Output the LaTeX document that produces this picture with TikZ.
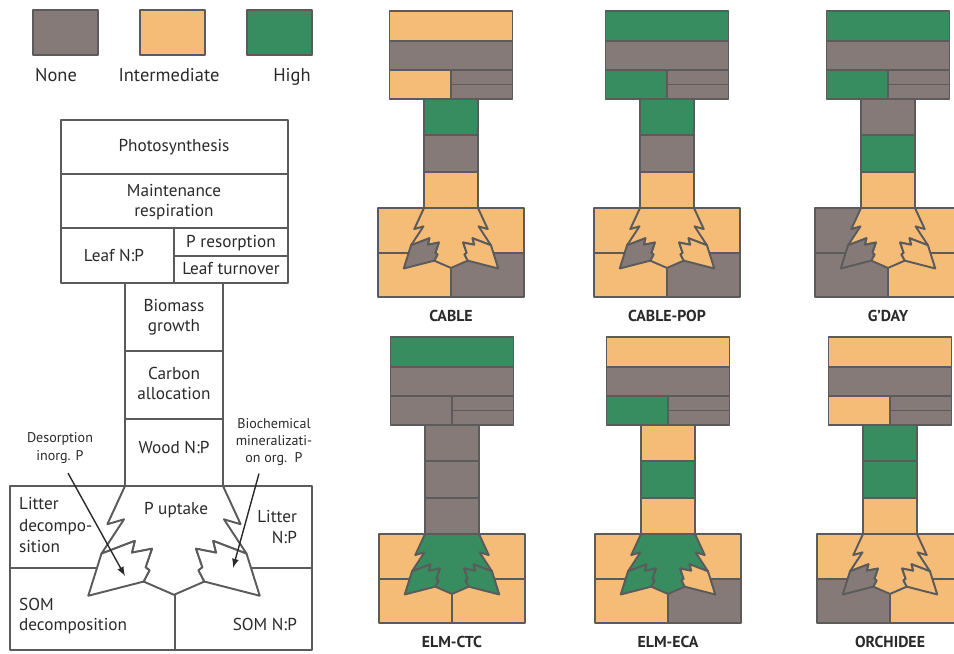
\documentclass[tikz,border=0pt]{standalone}
\usepackage{fontspec}
\setmainfont{PT Sans}
\usepackage{tikz}

\definecolor{lvlN}{HTML}{857A78}
\definecolor{lvlI}{HTML}{F5BC77}
\definecolor{lvlH}{HTML}{378D5F}
\definecolor{edge}{HTML}{5B5B5B}
\definecolor{ink}{HTML}{2A2A2A}

% root: body, left lobe, right lobe (unit = half trunk width)
\newcommand\rootparts[3]{%
  \draw[#1] (-1,0) -- (-1.36,0.78) -- (-1.02,0.68) -- (-1.48,1.38)
    -- (-0.80,1.12) -- (-0.86,1.36) -- (-0.45,1.28) -- (-0.58,1.66)
    -- (-0.50,1.72) -- (-0.62,1.95) -- (0,2.22) -- (0.62,1.95)
    -- (0.50,1.72) -- (0.58,1.66) -- (0.45,1.28) -- (0.86,1.36)
    -- (0.80,1.12) -- (1.48,1.38) -- (1.02,0.68) -- (1.36,0.78)
    -- (1,0) -- cycle;
  \draw[#2] (-1.48,1.38) -- (-1.75,2.24) -- (-0.62,1.95) -- (-0.50,1.72)
    -- (-0.58,1.66) -- (-0.45,1.28) -- (-0.86,1.36) -- (-0.80,1.12) -- cycle;
  \draw[#3] (1.48,1.38) -- (1.75,2.24) -- (0.62,1.95) -- (0.50,1.72)
    -- (0.58,1.66) -- (0.45,1.28) -- (0.86,1.36) -- (0.80,1.12) -- cycle;
}

% small model panel, levels: leaf(5) trunk(3) | soil(4) root(3)
\def\panelup#1#2#3#4#5#6#7#8{%
  \draw[cell, fill=lvl#1] (-61.5,0) rectangle (61.5,30);
  \draw[cell, fill=lvl#2] (-61.5,30) rectangle (61.5,59);
  \draw[cell, fill=lvl#3] (-61.5,59) rectangle (0,88);
  \draw[cell, fill=lvl#4] (0,59) rectangle (61.5,73.5);
  \draw[cell, fill=lvl#5] (0,73.5) rectangle (61.5,88);
  \draw[cell, fill=lvl#6] (-27,88) rectangle (27,124);
  \draw[cell, fill=lvl#7] (-27,124) rectangle (27,161);
  \draw[cell, fill=lvl#8] (-27,161) rectangle (27,197);
  \paneldown}
\def\paneldown#1#2#3#4#5#6#7{%
  \draw[cell, fill=lvl#1] (-73,197) rectangle (0,242);
  \draw[cell, fill=lvl#2] (0,197) rectangle (73,242);
  \draw[cell, fill=lvl#3] (-73,242) rectangle (0,286);
  \draw[cell, fill=lvl#4] (0,242) rectangle (73,286);
  \begin{scope}[shift={(0,197)}, scale=27]
    \rootparts{cell, fill=lvl#5}{cell, fill=lvl#6}{cell, fill=lvl#7}
  \end{scope}}
\newcommand\panel[4]{%
  \begin{scope}[shift={(#1)}]
    \panelup#4
    \node[modelname] (#2) at (0,305) {#3};
  \end{scope}}

\begin{document}
\begin{tikzpicture}[x=0.02cm, y=-0.02cm,
  cell/.style={draw=edge, line width=1.1pt, line join=round},
  plainbox/.style={cell, fill=white},
  txt/.style={text=ink, font=\fontsize{9.8}{11.4}\selectfont, align=center, inner sep=1pt},
  smalltxt/.style={txt, font=\fontsize{8}{9.7}\selectfont},
  legendtxt/.style={txt, anchor=base, font=\fontsize{10.5}{12}\selectfont},
  modelname/.style={txt, font=\fontsize{9}{11}\selectfont\bfseries}]
\useasboundingbox (0,0) rectangle (954,653);
\clip (0,0) rectangle (954,653);

% legend
\draw[cell, fill=lvlN] (33,10) rectangle (98,55);
\draw[cell, fill=lvlI] (140,10) rectangle (205,55);
\draw[cell, fill=lvlH] (247,10) rectangle (312,55);
\node[legendtxt] (none) at (56,81) {None};
\node[legendtxt] (inter) at (169,81) {Intermediate};
\node[legendtxt] (high) at (292,81) {High};

% processes
\draw[plainbox] (61,120) rectangle (288,174);
\draw[plainbox] (61,174) rectangle (288,228);
\draw[plainbox] (61,228) rectangle (174,283);
\draw[plainbox] (174,228) rectangle (288,256);
\draw[plainbox] (174,256) rectangle (288,283);
\draw[plainbox] (125,283) rectangle (223,351);
\draw[plainbox] (125,351) rectangle (223,419);
\draw[plainbox] (125,419) rectangle (223,486);
\draw[plainbox] (10,486) rectangle (175,568);
\draw[plainbox] (175,486) rectangle (312,568);
\draw[plainbox] (10,568) rectangle (175,650);
\draw[plainbox] (175,568) rectangle (312,650);
\begin{scope}[shift={(174,486)}, scale=49]
  \rootparts{plainbox}{plainbox}{plainbox}
\end{scope}

\node[txt] (photo) at (174,147) {Photosynthesis};
\node[txt] (maint) at (174,202) {Maintenance\\respiration};
\node[txt] (leafnp) at (114,255) {Leaf N:P};
\node[txt] (resorb) at (231,243) {P resorption};
\node[txt] (turnover) at (231,269) {Leaf turnover};
\node[txt] (growth) at (174,317) {Biomass\\growth};
\node[txt] (alloc) at (174,383) {Carbon\\allocation};
\node[txt] (woodnp) at (174,447) {Wood N:P};
\node[txt] (uptake) at (176,510) {P uptake};
\node[txt, anchor=west, align=left, font=\fontsize{9.8}{12}\selectfont] (litdec) at (17,525) {Litter\\decompo-\\sition};
\node[txt, anchor=east, align=right] (litnp) at (299,527) {Litter\\N:P};
\node[txt, anchor=west, align=left] (somdec) at (17,616) {SOM\\decomposition};
\node[txt, anchor=east] (somnp) at (299,624) {SOM N:P};
\node[smalltxt] (desorp) at (60,448) {Desorption\\inorg. P};
\node[smalltxt] (biomin) at (274,442) {Biochemical\\mineralizati-\\on org.\ \ P};

\coordinate (desorbtip) at (125,576);
\coordinate (biomintip) at (233,568);
\draw[-latex, ink, line width=0.8pt] ([shift={(8,8)}]desorp.south) -- (desorbtip);
\draw[-latex, ink, line width=0.8pt] ([shift={(-15,6)}]biomin.south) -- (biomintip);

% models
\panel{451,11}{cable}{CABLE}{ININN HNI IIIN INI}
\panel{667,11}{cablepop}{CABLE-POP}{HNHNN HNI IIIN INI}
\panel{888,11}{gday}{G’DAY}{HNHNN NHI NINI INI}
\panel{452,337}{elmctc}{ELM-CTC}{HNNNN NNN IIII HHH}
\panel{668,337}{elmeca}{ELM-ECA}{INHNN IHI IIIN HHI}
\panel{890,337}{orchidee}{ORCHIDEE}{ININN HHI IINI INI}

\end{tikzpicture}
\end{document}
